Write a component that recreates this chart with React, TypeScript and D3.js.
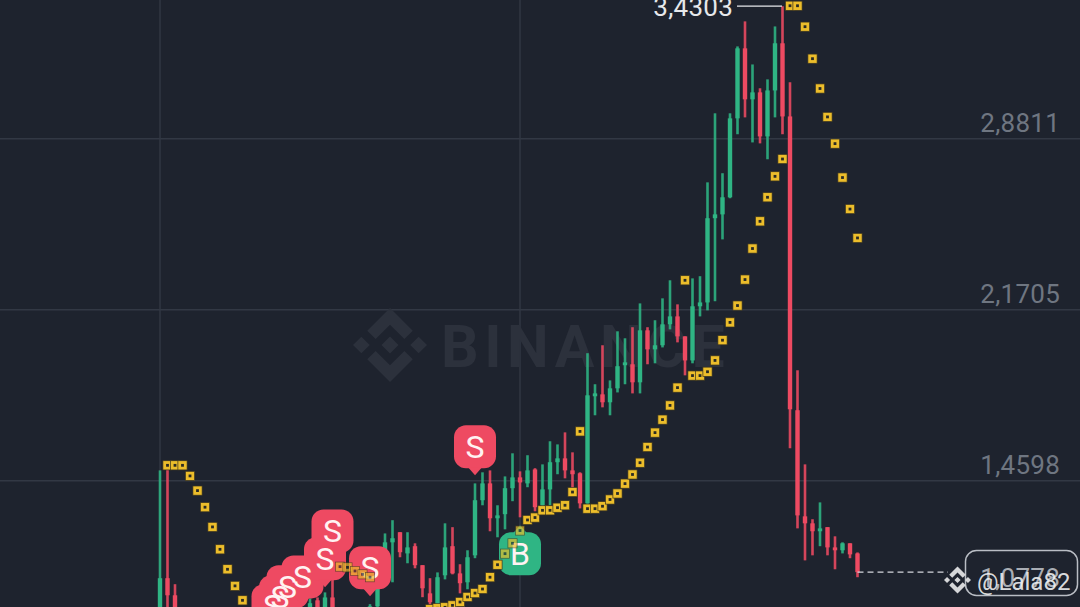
import React, { useEffect, useRef } from 'react'
import * as d3 from 'd3'

const WIDTH = 1080
const HEIGHT = 607
const BG = '#1e232e'
const GREEN = '#2fb584'
const RED = '#ee4a62'
const FONT = 'Roboto, sans-serif'

// candles that can be seen, the others sit below the visible window
const barIndex = [0, 1, 2, 20, 21, 22, 23, 28, 29, 30, 31, 32, 33, 34, 35, 36, 37, 38, 39, 40, 41, 42, 43, 44, 45, 46, 47, 48, 49, 50, 51, 52, 53, 54, 55, 56, 57, 58, 59, 60, 61, 62, 63, 64, 65, 66, 67, 68, 69, 70, 71, 72, 73, 74, 75, 76, 77, 78, 79, 80, 81, 82, 83, 84, 85, 86, 87, 88, 89, 90, 91, 92, 93]
const opens = [0.878, 1.053, 0.982, 0.899, 0.961, 0.899, 0.973, 0.878, 0.936, 1.04, 1.202, 1.244, 1.156, 1.186, 1.107, 0.99, 0.94, 1.065, 1.186, 1.073, 1.036, 1.148, 1.377, 1.447, 1.302, 1.319, 1.427, 1.472, 1.447, 1.505, 1.356, 1.422, 1.535, 1.551, 1.501, 1.489, 1.364, 1.809, 1.817, 1.784, 1.842, 1.938, 1.942, 1.867, 2.083, 2.004, 2.021, 2.108, 2.141, 2.058, 1.958, 2.183, 2.199, 2.549, 2.565, 2.636, 2.964, 3.255, 3.043, 3.072, 2.889, 3.08, 3.276, 2.972, 1.751, 1.31, 1.281, 1.248, 1.265, 1.181, 1.169, 1.198, 1.156]
const highs = [1.501, 1.522, 1.028, 0.969, 0.973, 0.994, 1.127, 0.945, 1.107, 1.239, 1.294, 1.244, 1.244, 1.198, 1.107, 1.053, 1.077, 1.281, 1.265, 1.111, 1.169, 1.447, 1.493, 1.501, 1.356, 1.476, 1.572, 1.497, 1.564, 1.51, 1.526, 1.622, 1.609, 1.659, 1.576, 1.493, 1.988, 1.859, 2.021, 1.875, 2.079, 2.05, 2.096, 2.195, 2.096, 2.125, 2.216, 2.291, 2.191, 2.058, 2.299, 2.308, 2.698, 2.985, 2.736, 2.985, 3.263, 3.367, 3.188, 3.089, 3.126, 3.346, 3.43, 3.114, 1.917, 1.526, 1.298, 1.368, 1.265, 1.227, 1.202, 1.198, 1.16]
const lows = [0.836, 0.857, 0.836, 0.869, 0.869, 0.869, 0.869, 0.869, 0.911, 1.04, 1.036, 1.14, 1.115, 1.094, 0.974, 0.911, 0.92, 1.048, 1.069, 0.99, 1.007, 1.136, 1.356, 1.248, 1.223, 1.256, 1.373, 1.306, 1.431, 1.331, 1.348, 1.356, 1.485, 1.468, 1.427, 1.343, 1.356, 1.73, 1.763, 1.73, 1.825, 1.859, 1.821, 1.821, 1.942, 1.946, 2.012, 2.087, 2.033, 1.896, 1.946, 2.141, 2.166, 2.204, 2.461, 2.632, 2.898, 2.968, 2.864, 2.86, 2.794, 2.968, 2.898, 1.593, 1.26, 1.127, 1.148, 1.186, 1.148, 1.09, 1.156, 1.136, 1.057]
const closes = [1.053, 0.982, 0.878, 0.949, 0.899, 0.973, 0.899, 0.936, 1.04, 1.202, 1.219, 1.161, 1.181, 1.107, 1.011, 0.953, 1.057, 1.181, 1.073, 1.032, 1.14, 1.377, 1.447, 1.302, 1.314, 1.427, 1.472, 1.451, 1.501, 1.348, 1.422, 1.535, 1.551, 1.501, 1.485, 1.364, 1.813, 1.821, 1.784, 1.842, 1.934, 1.95, 1.867, 2.083, 2.004, 2.021, 2.108, 2.141, 2.058, 1.958, 2.183, 2.199, 2.549, 2.565, 2.636, 2.964, 3.255, 3.043, 3.072, 2.889, 3.08, 3.276, 2.972, 1.755, 1.314, 1.281, 1.248, 1.26, 1.181, 1.169, 1.198, 1.152, 1.078]

// parabolic SAR dots
const sarIndex = [1, 2, 3, 4, 5, 6, 7, 8, 9, 10, 11, 24, 25, 26, 27, 28, 36, 37, 38, 39, 40, 41, 42, 43, 44, 45, 46, 47, 48, 49, 50, 51, 52, 53, 54, 55, 56, 57, 58, 59, 60, 61, 62, 63, 64, 65, 66, 67, 68, 69, 70, 71, 72, 73, 74, 75, 76, 77, 78, 79, 80, 81, 82, 83, 84, 85, 86, 87, 88, 89, 90, 91, 92, 93]
const sarValues = [1.522, 1.522, 1.522, 1.478, 1.417, 1.348, 1.266, 1.173, 1.09, 1.021, 0.961, 1.101, 1.098, 1.083, 1.069, 1.057, 0.924, 0.928, 0.932, 0.94, 0.954, 0.975, 0.991, 1.008, 1.057, 1.109, 1.155, 1.198, 1.251, 1.295, 1.305, 1.335, 1.335, 1.346, 1.356, 1.411, 1.663, 1.342, 1.342, 1.352, 1.38, 1.405, 1.446, 1.484, 1.533, 1.598, 1.658, 1.712, 1.771, 1.845, 2.291, 1.895, 1.895, 1.911, 1.958, 2.042, 2.116, 2.186, 2.294, 2.423, 2.536, 2.636, 2.723, 2.795, 3.432, 3.432, 3.345, 3.212, 3.088, 2.97, 2.859, 2.718, 2.587, 2.467]
// dots that lie on a signal badge look washed out
const sarOnBadge = [24, 25, 26, 27, 28, 46, 47, 48]

// buy / sell signals, price is where the badge pointer ends
const signalIndex = [15, 16, 17, 19, 22, 23, 28, 42, 48]
const signalTexts = ['S', 'S', 'S', 'S', 'S', 'S', 'S', 'S', 'B']
const signalPrices = [0.82, 0.857, 0.899, 0.94, 1.015, 1.131, 0.978, 1.481, 1.273]

const priceTicks = [1.4598, 2.1705, 2.8811]
const gridBars = [0, 48]
const maxPrice = 3.4303
const lastPrice = 1.0778
const lastBar = 93

const LOGO = 'M38.73 53.2l24.59-24.58 24.6 24.6 14.3-14.31L63.32 0 24.42 38.9l14.31 14.3z M0 63.31l14.3-14.31 14.31 14.31-14.31 14.3z M38.73 73.41l24.59 24.59 24.6-24.6 14.31 14.29-38.9 38.91-38.91-38.88-.02-.02z M97.99 63.31l14.3-14.31 14.32 14.3-14.31 14.32z M77.83 63.3L63.32 48.78 52.59 59.51l-1.24 1.23-2.54 2.54 14.51 14.5 14.51-14.47z'

const fmt = (v: number) => d3.format('.4f')(v).replace('.', ',')

export default function App() {
  const ref = useRef<SVGSVGElement>(null)

  useEffect(() => {
    const svg = d3.select(ref.current)
    svg.selectAll('*').remove()

    const x = d3.scaleLinear().domain([0, 93]).range([160, 857.5])
    const y = d3.scaleLinear().domain([1.4598, 2.8811]).range([480.3, 138.3])

    svg.append('rect').attr('width', WIDTH).attr('height', HEIGHT).attr('fill', BG)

    // grid and price labels
    const axis = svg.append('g').call(
      d3.axisRight(y).tickValues(priceTicks).tickSize(WIDTH).tickFormat((d) => fmt(+d))
    )
    axis.select('.domain').remove()
    axis.selectAll('line').attr('stroke', '#323844').attr('stroke-width', 1.4)
    axis.selectAll('text')
      .attr('x', 1060).attr('y', -7).attr('dy', 0)
      .attr('text-anchor', 'end')
      .attr('font-family', FONT).attr('font-size', 26).attr('letter-spacing', 0.25)
      .attr('fill', '#6f7681')

    svg.append('g').selectAll('line').data(gridBars).join('line')
      .attr('x1', (d) => x(d)).attr('x2', (d) => x(d))
      .attr('y1', 0).attr('y2', HEIGHT)
      .attr('stroke', '#323844').attr('stroke-width', 1.4)

    // big watermark
    const k = 74 / 126.6
    svg.append('path').attr('d', LOGO)
      .attr('transform', `translate(353,308) scale(${k})`)
      .attr('fill', '#2c313c')
    svg.append('text').text('BINANCE')
      .attr('x', 441).attr('y', 367)
      .attr('font-family', FONT).attr('font-weight', 700).attr('font-size', 59)
      .attr('letter-spacing', 5.6)
      .attr('fill', '#2c313c')

    // candles
    const candles = svg.append('g').selectAll('g').data(barIndex).join('g')
      .attr('fill', (_, i) => (closes[i] >= opens[i] ? GREEN : RED))
    candles.append('rect')
      .attr('x', (d) => x(d) - 1.3).attr('width', 2.6)
      .attr('y', (_, i) => y(highs[i]))
      .attr('height', (_, i) => y(lows[i]) - y(highs[i]))
      .attr('opacity', 0.88)
    candles.append('rect')
      .attr('x', (d) => x(d) - 2.2).attr('width', 4.4)
      .attr('y', (_, i) => y(Math.max(opens[i], closes[i])))
      .attr('height', (_, i) => Math.abs(y(opens[i]) - y(closes[i])))

    // last price dashes
    svg.append('line')
      .attr('x1', x(lastBar)).attr('x2', 948)
      .attr('y1', y(lastPrice)).attr('y2', y(lastPrice))
      .attr('stroke', '#d5d8dd').attr('stroke-width', 1.2)
      .attr('stroke-dasharray', '6 4')

    // signal badges, all the letters stay above all the shapes
    const badges = svg.append('g').selectAll('g').data(signalIndex).join('g')
      .attr('transform', (d, i) => `translate(${x(d)},${y(signalPrices[i])})`)
    badges.each(function (_, i) {
      const g = d3.select(this)
      const isSell = signalTexts[i] === 'S'
      const color = isSell ? RED : GREEN
      const s = isSell ? -1 : 1
      g.append('rect')
        .attr('x', -21).attr('width', 42)
        .attr('y', isSell ? -50 : 7).attr('height', 43)
        .attr('rx', 12)
        .attr('fill', color)
      g.append('path')
        .attr('d', `M-7,${s * 8}L0,0L7,${s * 8}Z`)
        .attr('fill', color)
    })
    svg.append('g').selectAll('text').data(signalIndex).join('text')
      .text((_, i) => signalTexts[i])
      .attr('x', (d) => x(d))
      .attr('y', (_, i) => y(signalPrices[i]) + (signalTexts[i] === 'S' ? -17 : 40))
      .attr('text-anchor', 'middle')
      .attr('font-family', FONT).attr('font-size', 32)
      .attr('fill', '#fff2f2')

    // SAR dots
    const dots = svg.append('g').selectAll('g').data(sarIndex).join('g')
      .attr('transform', (d, i) => `translate(${x(d)},${y(sarValues[i])})`)
      .attr('opacity', (d) => (sarOnBadge.includes(d) ? 0.68 : 1))
    dots.append('rect')
      .attr('x', -4.6).attr('y', -4.6).attr('width', 9.2).attr('height', 9.2)
      .attr('fill', '#ecbd2b').attr('stroke', '#3a3420').attr('stroke-width', 0.7)
    dots.append('rect')
      .attr('x', -1.4).attr('y', -1.4).attr('width', 2.8).attr('height', 2.8)
      .attr('fill', '#2a2a24')

    // highest price marker
    svg.append('line')
      .attr('x1', 737).attr('x2', 782)
      .attr('y1', y(maxPrice)).attr('y2', y(maxPrice))
      .attr('stroke', '#e6e8eb').attr('stroke-width', 1.4)
    svg.append('text').text(fmt(maxPrice))
      .attr('x', 733).attr('y', y(maxPrice) + 10)
      .attr('text-anchor', 'end')
      .attr('font-family', FONT).attr('font-size', 26).attr('letter-spacing', 0.25)
      .attr('fill', '#e6e8eb')

    // last price box
    svg.append('rect')
      .attr('x', 965.5).attr('y', 550.5).attr('width', 112).attr('height', 45).attr('rx', 11)
      .attr('fill', BG).attr('stroke', '#b9bdc4').attr('stroke-width', 1.5)
    svg.append('text').text(fmt(lastPrice))
      .attr('x', 1060).attr('y', 587)
      .attr('text-anchor', 'end')
      .attr('font-family', FONT).attr('font-size', 26).attr('letter-spacing', 0.25)
      .attr('fill', '#a9adb4')

    // user watermark
    svg.append('path').attr('d', LOGO)
      .attr('transform', `translate(944,566.5) scale(${27 / 126.6})`)
      .attr('fill', '#d6d7d9')
    svg.append('text').text('@Lala82')
      .attr('x', 977).attr('y', 590)
      .attr('font-family', FONT).attr('font-size', 24)
      .attr('fill', '#f2f3f4').attr('fill-opacity', 0.9)
  }, [])

  return (
    <svg
      ref={ref}
      width={WIDTH}
      height={HEIGHT}
      style={{ position: 'absolute', left: 0, top: 0, display: 'block' }}
    />
  )
}
